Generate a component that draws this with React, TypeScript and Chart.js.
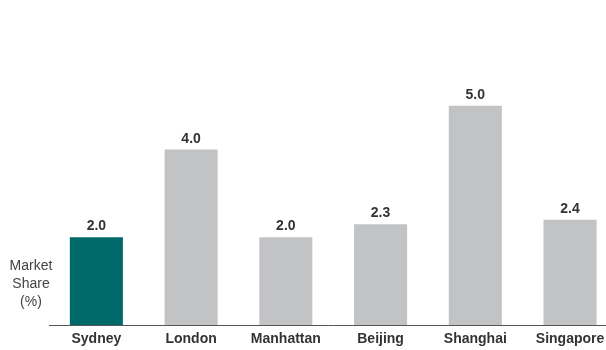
import React, { useEffect, useRef } from "react";
import { Chart, registerables } from "chart.js";

Chart.register(...registerables);

const cities = ["Sydney", "London", "Manhattan", "Beijing", "Shanghai", "Singapore"];
const marketShare = [2.0, 4.0, 2.0, 2.3, 5.0, 2.4];
const barColors = ["#006a6a", "#c2c3c5", "#c2c3c5", "#c2c3c5", "#c2c3c5", "#c2c3c5"];
const axisTitleLines = ["Market", "Share", "(%)"];

const FONT = "'Liberation Sans', Arial, Helvetica, sans-serif";

// Writes each bar's value just above it, using the bar elements Chart.js laid out.
const valueLabels = {
  id: "valueLabels",
  afterDatasetsDraw(chart: any) {
    const { ctx } = chart;
    const meta = chart.getDatasetMeta(0);
    const data = chart.data.datasets[0].data as number[];
    ctx.save();
    ctx.font = `bold 14px ${FONT}`;
    ctx.fillStyle = "#333333";
    ctx.textAlign = "center";
    ctx.textBaseline = "alphabetic";
    meta.data.forEach((bar: any, i: number) => {
      ctx.fillText(data[i].toFixed(1), bar.x, bar.y - 7);
    });
    ctx.restore();
  },
};

// Stacked axis caption to the left of the first bar.
const axisCaption = {
  id: "axisCaption",
  afterDraw(chart: any) {
    const { ctx } = chart;
    ctx.save();
    ctx.font = `14px ${FONT}`;
    ctx.fillStyle = "#444444";
    ctx.textAlign = "center";
    ctx.textBaseline = "middle";
    axisTitleLines.forEach((line, i) => {
      ctx.fillText(line, 31, 266 + i * 18);
    });
    ctx.restore();
  },
};

export default function App() {
  const canvasRef = useRef<HTMLCanvasElement | null>(null);

  useEffect(() => {
    if (!canvasRef.current) return;
    const chart = new Chart(canvasRef.current, {
      type: "bar",
      data: {
        labels: cities,
        datasets: [
          {
            data: marketShare,
            backgroundColor: barColors,
            borderWidth: 0,
            barPercentage: 0.56,
            categoryPercentage: 1,
          },
        ],
      },
      options: {
        responsive: false,
        animation: false,
        devicePixelRatio: 1,
        layout: { padding: { left: 49, right: 2.6, top: 18, bottom: -4 } },
        plugins: {
          legend: { display: false },
          tooltip: { enabled: false },
        },
        scales: {
          x: {
            grid: { display: false, drawTicks: false },
            border: { display: true, color: "#555555", width: 1 },
            ticks: {
              color: "#333333",
              font: { family: FONT, size: 14, weight: "bold" },
              padding: 6.1,
              maxRotation: 0,
              autoSkip: false,
            },
          },
          y: {
            display: false,
            min: 0,
            max: 7,
          },
        },
      },
      plugins: [valueLabels, axisCaption],
    });
    return () => chart.destroy();
  }, []);

  return (
    <div
      style={{
        position: "fixed",
        left: 0,
        top: 0,
        width: 606,
        height: 350,
        overflow: "hidden",
        background: "#ffffff",
      }}
    >
      <canvas ref={canvasRef} width={620} height={350} style={{ display: "block" }} />
    </div>
  );
}
